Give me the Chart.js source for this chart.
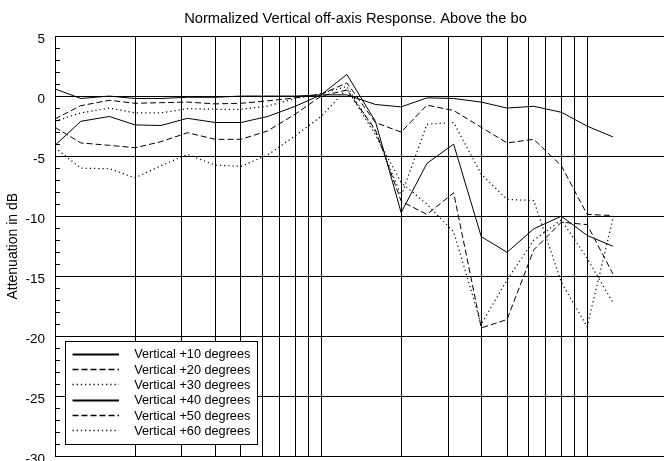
<!DOCTYPE html>
<html>
<head>
<meta charset="utf-8">
<script src="https://cdn.jsdelivr.net/npm/chart.js@4.4.0/dist/chart.umd.min.js"></script>
<style>
  html, body { margin: 0; padding: 0; background: #fff; }
  #wrap { width: 664px; height: 461px; }
</style>
</head>
<body>
<div id="wrap"><canvas id="chart" width="664" height="461"></canvas></div>
<script>
// 1/3 octave centre frequencies (Hz)
const frequencies = [100, 125, 160, 200, 250, 315, 400, 500, 630, 800, 1000, 1250, 1600, 2000, 2500, 3150, 4000, 5000, 6300, 8000, 10000, 12500];

// attenuation in dB
const vert10 = [0.6, -0.2, 0, -0.2, -0.2, -0.1, -0.1, 0, 0, 0, 0.1, 0.1, -0.7, -0.9, -0.15, -0.2, -0.5, -1.0, -0.85, -1.35, -2.5, -3.4];
const vert20 = [-1.9, -0.8, -0.35, -0.6, -0.55, -0.5, -0.65, -0.6, -0.4, -0.15, 0.15, 1.1, -2.2, -3.0, -0.75, -1.2, -2.6, -3.9, -3.6, -5.8, -9.85, -9.95];
const vert30 = [-2.1, -1.4, -1.0, -1.4, -1.4, -1.05, -1.1, -1.1, -0.83, -0.2, 0.2, 0.8, -3.0, -8.3, -2.35, -2.2, -6.5, -8.6, -8.7, -15.5, -19.2, -10.2];
const vert40 = [-4.1, -2.1, -1.7, -2.4, -2.45, -1.85, -2.2, -2.2, -1.7, -0.85, 0.1, 1.8, -2.1, -9.7, -5.6, -4.0, -11.7, -13.0, -11.05, -10.0, -11.6, -12.5];
const vert50 = [-2.6, -3.9, -4.1, -4.3, -3.8, -3.05, -3.6, -3.6, -2.9, -1.5, 0, 0.5, -2.8, -8.75, -9.85, -8.05, -19.3, -18.6, -12.8, -10.5, -10.7, -14.8];
const vert60 = [-4.3, -6.0, -6.05, -6.8, -5.8, -4.85, -5.75, -5.85, -4.9, -3.3, -1.7, 0.6, -3.2, -7.2, -9.0, -11.3, -19.0, -15.3, -12.0, -10.3, -13.5, -17.2];

const seriesLabels = ['Vertical +10 degrees', 'Vertical +20 degrees', 'Vertical +30 degrees',
                      'Vertical +40 degrees', 'Vertical +50 degrees', 'Vertical +60 degrees'];

// vertical grid lines and y ticks
const gridFreqs = [100, 200, 300, 400, 500, 600, 700, 800, 900, 1000,
                   2000, 3000, 4000, 5000, 6000, 7000, 8000, 9000, 10000];
const yMin = -30, yMax = 5, yStep = 5;

const SOLID = [], DASHED = [6, 3], DOTTED = [1.2, 3];

function pts(vals) {
    return frequencies.map((f, i) => ({ x: f, y: vals[i] }));
}

function series(label, vals, dash) {
    return {
        label: label,
        data: pts(vals),
        borderColor: '#000',
        borderWidth: dash === DOTTED ? 1.2 : 1,
        borderDash: dash,
        pointRadius: 0,
        tension: 0,
        fill: false
    };
}

const datasets = [
    series(seriesLabels[0], vert10, SOLID),
    series(seriesLabels[1], vert20, DASHED),
    series(seriesLabels[2], vert30, DOTTED),
    series(seriesLabels[3], vert40, SOLID),
    series(seriesLabels[4], vert50, DASHED),
    series(seriesLabels[5], vert60, DOTTED)
];

// title, minor y ticks and the boxed legend
const decor = {
    id: 'decor',
    afterDraw(chart) {
        const ctx = chart.ctx;
        const area = chart.chartArea;
        const y = chart.scales.y;
        ctx.save();

        ctx.fillStyle = '#000';
        ctx.font = '14.7px Arial, "Liberation Sans", sans-serif';
        ctx.textAlign = 'center';
        ctx.textBaseline = 'alphabetic';
        ctx.fillText('Normalized Vertical off-axis Response. Above the bo', 355.5, 22.7);

        // minor ticks every 1 dB
        ctx.strokeStyle = '#000';
        ctx.lineWidth = 1;
        ctx.setLineDash([]);
        ctx.beginPath();
        for (let v = yMin; v <= yMax; v++) {
            if (v % yStep === 0) continue;
            const py = Math.round(y.getPixelForValue(v)) + 0.5;
            ctx.moveTo(area.left, py);
            ctx.lineTo(area.left + 5, py);
        }
        ctx.stroke();

        // legend box
        const bx = 65.5, by = 341.5, bw = 192, bh = 103;
        ctx.fillStyle = '#fff';
        ctx.fillRect(bx, by, bw, bh);
        ctx.strokeRect(bx, by, bw, bh);
        ctx.font = '12.7px Arial, "Liberation Sans", sans-serif';
        ctx.textAlign = 'left';
        chart.data.datasets.forEach((ds, i) => {
            const base = 358.3 + i * 15.3;
            const ly = Math.round(base - 4.5) + 0.5;
            ctx.beginPath();
            ctx.setLineDash(ds.borderDash);
            ctx.lineWidth = ds.borderDash.length ? 1.5 : 2;
            ctx.moveTo(72.5, ly);
            ctx.lineTo(119, ly);
            ctx.stroke();
            ctx.setLineDash([]);
            ctx.fillStyle = '#000';
            ctx.fillText(ds.label, 134.3, base);
        });
        ctx.restore();
    }
};

new Chart(document.getElementById('chart'), {
    type: 'line',
    data: { datasets: datasets },
    options: {
        responsive: false,
        animation: false,
        events: [],
        layout: { padding: { top: 36, right: 0, bottom: 4.5, left: 0 } },
        plugins: {
            legend: { display: false },
            title: { display: false },
            tooltip: { enabled: false }
        },
        scales: {
            x: {
                type: 'logarithmic',
                min: 100,
                max: 19450,
                afterBuildTicks: s => { s.ticks = gridFreqs.map(v => ({ value: v })); },
                ticks: { display: false },
                grid: { color: '#000', lineWidth: 1, drawTicks: false },
                border: { display: true, color: '#000', width: 1 },
                afterFit: s => { s.height = 0; s.paddingLeft = 0; s.paddingRight = 0; }
            },
            y: {
                min: yMin,
                max: yMax,
                ticks: {
                    stepSize: yStep,
                    color: '#000',
                    padding: 10,
                    labelOffset: 3,
                    font: { family: 'Arial, "Liberation Sans", sans-serif', size: 13.5 }
                },
                grid: { color: '#000', lineWidth: 1, drawTicks: false },
                border: { display: true, color: '#000', width: 1 },
                title: {
                    display: true,
                    text: 'Attenuation in dB',
                    color: '#000',
                    padding: { top: 5, bottom: 0 },
                    font: { family: 'Arial, "Liberation Sans", sans-serif', size: 14 }
                },
                afterFit: s => { s.width = 55; s.paddingTop = 0; s.paddingBottom = 0; }
            }
        }
    },
    plugins: [decor]
});
</script>
</body>
</html>
